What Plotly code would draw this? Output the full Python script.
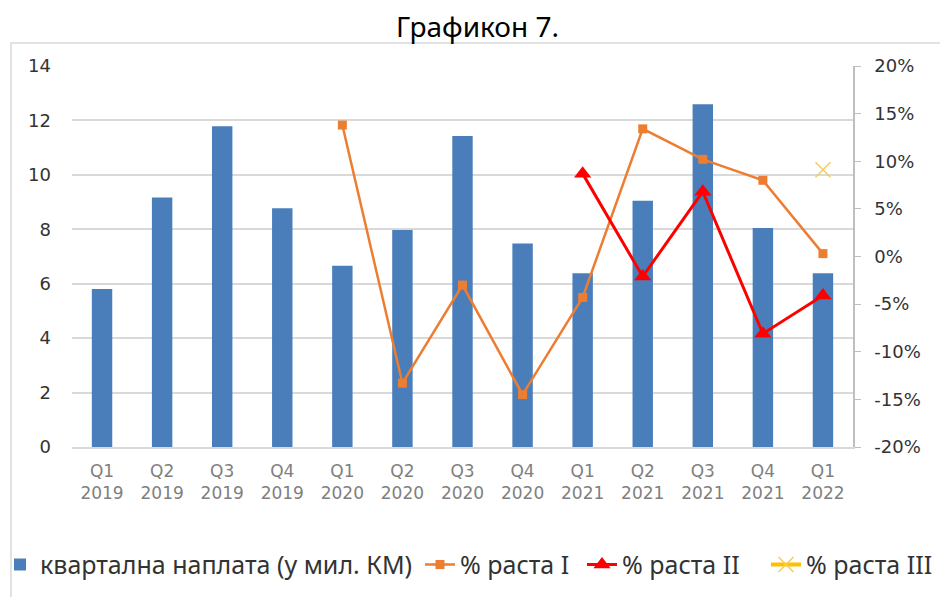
import plotly.graph_objects as go

# Quarterly payments and growth rates
quarters = ["Q1<br>2019", "Q2<br>2019", "Q3<br>2019", "Q4<br>2019",
            "Q1<br>2020", "Q2<br>2020", "Q3<br>2020", "Q4<br>2020",
            "Q1<br>2021", "Q2<br>2021", "Q3<br>2021", "Q4<br>2021",
            "Q1<br>2022"]
payments = [5.81, 9.17, 11.79, 8.77, 6.66, 7.97, 11.43, 7.48,
            6.38, 9.05, 12.59, 8.05, 6.38]
growth_1 = [None, None, None, None, 0.138, -0.133, -0.030, -0.145,
            -0.043, 0.134, 0.102, 0.080, 0.003]
growth_2 = [None] * 8 + [0.087, -0.021, 0.068, -0.081, -0.041]
growth_3 = [None] * 12 + [0.091]

left_ticks = list(range(0, 15, 2))
right_ticks = [-0.20, -0.15, -0.10, -0.05, 0.0, 0.05, 0.10, 0.15, 0.20]
right_tick_labels = ["-20%", "-15%", "-10%", "-5%", "0%", "5%", "10%", "15%", "20%"]

AX_FONT = "DejaVu Sans, Verdana, sans-serif"
TXT_FONT = "Noto Sans, Open Sans, sans-serif"

W, H = 940, 597

fig = go.Figure()

fig.add_trace(go.Bar(
    x=quarters, y=payments, name="квартална наплата (у мил. КМ)",
    marker=dict(color="#4A7EBB", line=dict(width=0)),
    yaxis="y", legend="legend",
))
fig.add_trace(go.Scatter(
    x=quarters, y=growth_1, name="% раста I", mode="lines+markers",
    line=dict(color="#ED7D31", width=2.5),
    marker=dict(symbol="square", size=9, color="#ED7D31"),
    yaxis="y2", connectgaps=False, legend="legend2",
))
fig.add_trace(go.Scatter(
    x=quarters, y=growth_2, name="% раста II", mode="lines+markers",
    line=dict(color="#FF0000", width=3),
    marker=dict(symbol="triangle-up", size=15, color="#FF0000"),
    yaxis="y2", legend="legend3",
))
fig.add_trace(go.Scatter(
    x=quarters, y=growth_3, name="% раста III", mode="lines+markers",
    line=dict(color="#FFC000", width=4),
    marker=dict(symbol="x-thin", size=15, color="#FFD966",
                line=dict(color="#F2CD5C", width=1.5)),
    yaxis="y2", legend="legend4",
))


def legend_box(left_px):
    # one legend entry placed along the bottom row
    return dict(
        orientation="h", xref="container", yref="container",
        x=left_px / W, y=0.054, xanchor="left", yanchor="middle",
        font=dict(family=TXT_FONT, size=25, color="#333333"),
        itemwidth=30, bgcolor="rgba(0,0,0,0)",
    )


fig.update_layout(
    width=W, height=H,
    margin=dict(l=72, r=87, t=66, b=150, autoexpand=False),
    paper_bgcolor="white", plot_bgcolor="white",
    bargap=0.66,
    showlegend=True,
    title=dict(text="Графикон 7.", x=0.508, xanchor="center",
               y=0.955, yanchor="middle",
               font=dict(family=TXT_FONT, size=28, color="#000000")),
    xaxis=dict(
        range=[-0.5, len(quarters) - 0.5],
        tickfont=dict(family=AX_FONT, size=17, color="#7F7F7F"),
        showline=True, linecolor="#D9D9D9", linewidth=1.5,
        ticks="", showgrid=False, ticklabelstandoff=8,
    ),
    yaxis=dict(
        range=[0, 14], tickvals=left_ticks,
        tickfont=dict(family=AX_FONT, size=18, color="#333333"),
        showgrid=True, gridcolor="#D9D9D9", gridwidth=1.5,
        zeroline=False, showline=False, ticks="", ticklabelstandoff=20,
    ),
    yaxis2=dict(
        overlaying="y", side="right",
        range=[-0.20, 0.20], tickvals=right_ticks, ticktext=right_tick_labels,
        tickfont=dict(family=AX_FONT, size=18, color="#333333"),
        showgrid=False, zeroline=False,
        showline=True, linecolor="#BFBFBF", linewidth=1.5,
        ticks="outside", ticklen=6, tickcolor="#BFBFBF",
        ticklabelstandoff=10,
    ),
    legend=legend_box(-8),
    legend2=legend_box(420),
    legend3=legend_box(582),
    legend4=legend_box(766),
    shapes=[dict(
        type="rect", xref="paper", yref="paper",
        x0=(11 - 72) / 781, x1=(960 - 72) / 781,
        y0=(447 - 620) / 381, y1=(447 - 43) / 381,
        line=dict(color="#D9D9D9", width=1.5), fillcolor="rgba(0,0,0,0)",
        layer="below",
    )],
)

fig.write_html("out.html")
